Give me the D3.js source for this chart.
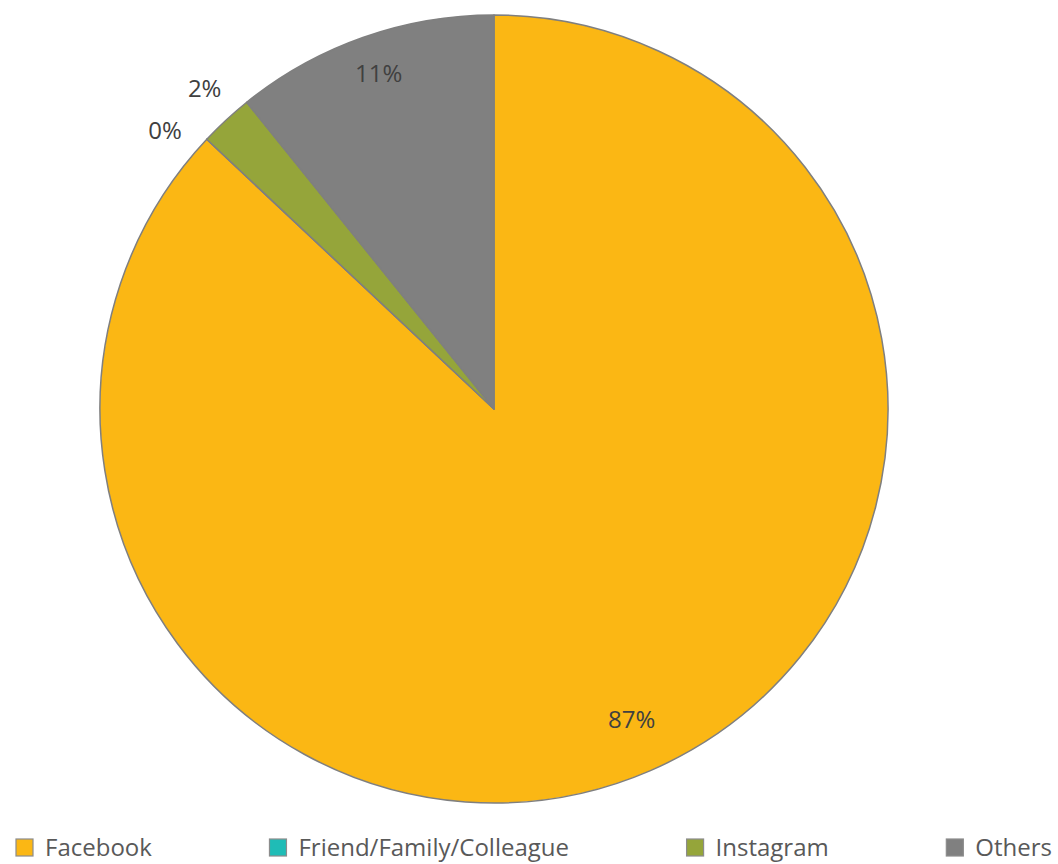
<!DOCTYPE html>
<html>
<head>
<meta charset="utf-8">
<script src="https://cdn.jsdelivr.net/npm/d3@7"></script>
<style>
  body { margin: 0; background: #fff; }
  svg { display: block; font-family: "Open Sans", sans-serif; }
</style>
</head>
<body>
<svg id="chart" width="1058" height="864"></svg>
<script>
// data (percent of respondents)
const categories = ["Facebook", "Friend/Family/Colleague", "Instagram", "Others"];
const values = [87.0, 0.0, 2.2, 10.8];
const colors = ["#fbb714", "#1fbcb6", "#95a53a", "#808080"];

const svg = d3.select("#chart");

// pie geometry
const cx = 494, cy = 409, radius = 394;

const data = categories.map((c, i) => ({ name: c, value: values[i], color: colors[i] }));

const pie = d3.pie().sort(null).value((d) => d.value);
const arcs = pie(data);

const arc = d3.arc().innerRadius(0).outerRadius(radius);

const g = svg.append("g").attr("transform", `translate(${cx},${cy})`);

g.selectAll("path.slice")
  .data(arcs)
  .join("path")
  .attr("class", "slice")
  .attr("d", arc)
  .attr("fill", (d) => d.data.color)
  .attr("stroke", "#7f7f7f")
  .attr("stroke-width", 1.5)
  .attr("stroke-linejoin", "round");

// labels: inside for big slices, outside for small ones
const inArc = d3.arc().innerRadius(radius * 0.88).outerRadius(radius * 0.88);
const outR = radius * 1.08;

const labels = arcs.map((d) => {
  const pct = d.data.value / d3.sum(values) * 100;
  let x, y;
  if (pct >= 5) {
    [x, y] = inArc.centroid(d);
  } else {
    const a = (d.startAngle + d.endAngle) / 2;
    x = Math.sin(a) * outR;
    y = -Math.cos(a) * outR;
  }
  return { text: Math.round(pct) + "%", x, y, outside: pct < 5 };
});

// push overlapping outside labels apart (keeps them on the label circle)
const outs = labels.filter((l) => l.outside).sort((a, b) => a.y - b.y);
for (let i = 1; i < outs.length; i++) {
  if (outs[i].y - outs[i - 1].y < 42) {
    outs[i].y = outs[i - 1].y + 42;
    const s = outs[i].x < 0 ? -1 : 1;
    outs[i].x = s * Math.sqrt(Math.max(0, outR * outR - outs[i].y * outs[i].y));
  }
}

g.selectAll("text.lbl")
  .data(labels)
  .join("text")
  .attr("class", "lbl")
  .attr("x", (d) => d.x)
  .attr("y", (d) => d.y)
  .attr("dy", "-0.38em")
  .attr("text-anchor", "middle")
  .attr("dominant-baseline", "central")
  .attr("font-size", 24)
  .attr("fill", "#404040")
  .text((d) => d.text);

// legend along the bottom
const legend = svg.append("g").attr("class", "legend");
const items = legend.selectAll("g")
  .data(data)
  .join("g");

items.append("rect")
  .attr("width", 17)
  .attr("height", 17)
  .attr("y", 839)
  .attr("fill", (d) => d.color)
  .attr("stroke", "#8c8c8c")
  .attr("stroke-width", 1.2);

items.append("text")
  .attr("x", 29)
  .attr("y", 856)
  .attr("font-size", 24)
  .attr("fill", "#595959")
  .text((d) => d.name);

// spread the items between the chart edges
const widths = items.nodes().map((n) => 29 + n.querySelector("text").getComputedTextLength());
const left = 16, right = 1052;
const gap = (right - left - d3.sum(widths)) / (widths.length - 1);
let pos = left;
items.each(function (d, i) {
  d3.select(this).attr("transform", `translate(${pos},0)`);
  pos += widths[i] + gap;
});
</script>
</body>
</html>
